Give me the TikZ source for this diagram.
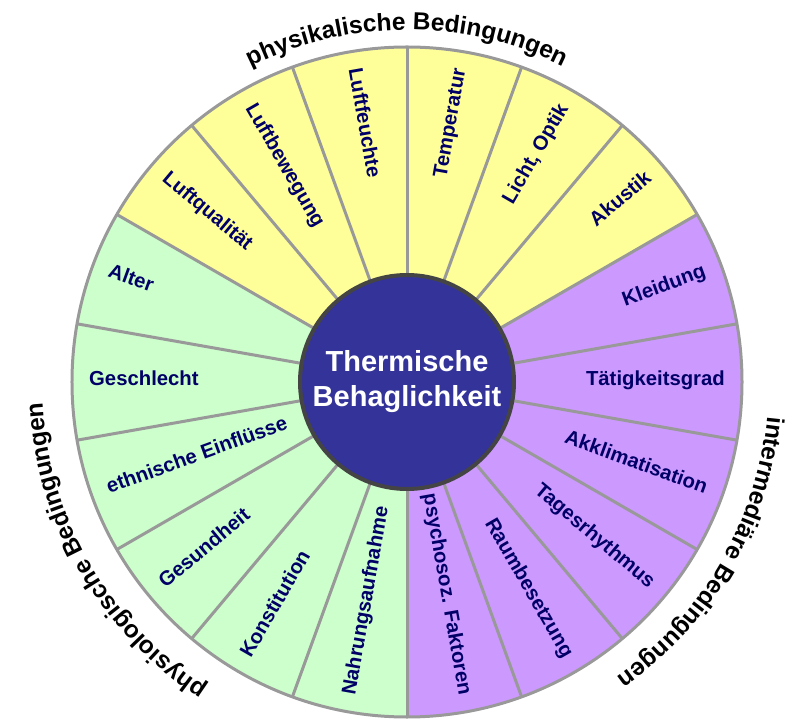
\documentclass[tikz,border=0pt]{standalone}
\usepackage{fontspec}
\setmainfont{Liberation Sans}
\usetikzlibrary{decorations.text}

\definecolor{physyellow}{HTML}{FFFF99}
\definecolor{physgreen}{HTML}{CCFFCC}
\definecolor{interpurple}{HTML}{CC99FF}
\definecolor{hubblue}{HTML}{333399}
\definecolor{labelnavy}{HTML}{000066}
\definecolor{spokegray}{HTML}{999999}
\definecolor{hubrim}{HTML}{444444}

\tikzset{
  field/.style={font=\fontsize{20.3}{24}\selectfont\bfseries, text=labelnavy,
    inner sep=0pt, text height=1.5ex, text depth=.25ex},
  rightfield/.style={field, anchor=east},
  leftfield/.style={field, anchor=west},
  spoke/.style={draw=spokegray, line width=3pt},
  grouptitle/.style={decorate, decoration={text along path, text align=center,
    text={|\fontsize{24.5}{24.5}\selectfont\bfseries|#1}}}
}

\begin{document}
\begin{tikzpicture}[x=1pt, y=1pt]

	\useasboundingbox (-407,-337) rectangle (384,382);

	% sectors
	\fill[physyellow] (0,0) -- (30:335) arc[start angle=30, end angle=150, radius=335] -- cycle;
	\fill[physgreen] (0,0) -- (150:335) arc[start angle=150, end angle=270, radius=335] -- cycle;
	\fill[interpurple] (0,0) -- (270:335) arc[start angle=270, end angle=390, radius=335] -- cycle;

	\foreach \a in {10,30,...,350}
		\draw[spoke] (0,0) -- (\a:335);
	\draw[spoke] (0,0) circle[radius=335];

	\node[circle, fill=hubblue, draw=hubrim, line width=4pt, minimum size=214pt,
		text=white, align=center, font=\fontsize{29}{35}\selectfont\bfseries]
		(hub) at (0,0) {Thermische\\Behaglichkeit};

	% physikalische Bedingungen
	\node[rightfield, rotate=40] (akustik) at (40:318) {Akustik};
	\node[rightfield, rotate=60] (licht) at (60:318) {Licht, Optik};
	\node[rightfield, rotate=80] (temperatur) at (80:318) {Temperatur};
	\node[leftfield, rotate=-80] (luftfeuchte) at (100:318) {Luftfeuchte};
	\node[leftfield, rotate=-60] (luftbewegung) at (120:318) {Luftbewegung};
	\node[leftfield, rotate=-40] (luftqualitaet) at (140:318) {Luftqualität};

	% physiologische Bedingungen
	\node[leftfield, rotate=-20] (alter) at (160:318) {Alter};
	\node[leftfield] (geschlecht) at (180:318) {Geschlecht};
	\node[leftfield, rotate=20] (ethnisch) at (200:318) {ethnische Einflüsse};
	\node[leftfield, rotate=40] (gesundheit) at (220:318) {Gesundheit};
	\node[leftfield, rotate=60] (konstitution) at (240:318) {Konstitution};
	\node[leftfield, rotate=80] (nahrung) at (260:318) {Nahrungsaufnahme};

	% intermediaere Bedingungen
	\node[rightfield, rotate=-80] (psychosoz) at (280:318) {psychosoz. Faktoren};
	\node[rightfield, rotate=-60] (raumbesetzung) at (300:318) {Raumbesetzung};
	\node[rightfield, rotate=-40] (tagesrhythmus) at (320:318) {Tagesrhythmus};
	\node[rightfield, rotate=-20] (akklimatisation) at (340:318) {Akklimatisation};
	\node[rightfield] (taetigkeit) at (0:318) {Tätigkeitsgrad};
	\node[rightfield, rotate=20] (kleidung) at (20:318) {Kleidung};

	% group titles
	\path[grouptitle={physikalische Bedingungen}] (150:352) arc[start angle=150, end angle=30, radius=352];
	\path[grouptitle={intermediäre Bedingungen}] (30:362) arc[start angle=30, end angle=-90, radius=362];
	\path[grouptitle={physiologische Bedingungen}] (270:365) arc[start angle=270, end angle=150, radius=365];

\end{tikzpicture}
\end{document}
